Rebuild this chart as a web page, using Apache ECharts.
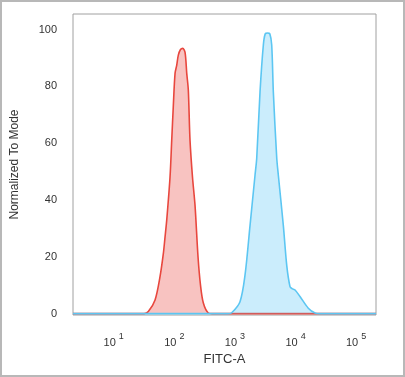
<!DOCTYPE html>
<html>
<head>
<meta charset="utf-8">
<script src="https://cdn.jsdelivr.net/npm/echarts@6/dist/echarts.min.js"></script>
<style>
html,body{margin:0;padding:0;background:#fff;}
#chart{position:absolute;left:0;top:0;width:405px;height:377px;}
#frame{position:absolute;left:0;top:0;width:405px;height:377px;box-sizing:border-box;border:2px solid #b8b8b8;pointer-events:none;}
</style>
</head>
<body>
<div id="chart"></div>
<div id="frame"></div>
<script>
// x values are log10(FITC-A)
var xTickDecades = [1, 2, 3, 4, 5];
var yTickValues = [0, 20, 40, 60, 80, 100];

var redX = [0.328, 1.500, 1.571, 1.682, 1.764, 1.818, 1.847, 1.875, 1.929, 1.957, 1.983, 2.012, 2.040, 2.066, 2.102, 2.139, 2.177, 2.205, 2.231, 2.259, 2.300, 2.342, 2.391, 2.432, 2.479, 2.561, 2.622, 5.328];
var redY = [0, 0, 0.7, 4.8, 13, 21, 27, 33, 48, 61, 72.9, 84.6, 87.5, 91, 93, 93.4, 92, 84.6, 78.7, 61, 48, 38, 20, 10, 3.7, 0.2, 0, 0];

var blueX = [0.328, 2.886, 2.947, 3.084, 3.167, 3.249, 3.332, 3.360, 3.414, 3.469, 3.500, 3.538, 3.576, 3.607, 3.634, 3.690, 3.716, 3.799, 3.855, 3.909, 3.942, 3.992, 4.074, 4.211, 4.322, 4.404, 5.328];
var blueY = [0, 0, 0.3, 4.2, 13.6, 31, 48.8, 54.8, 78, 94.6, 98.5, 98.8, 98.5, 94.6, 78, 54.8, 48.8, 31, 17, 9.5, 8.8, 8.3, 6, 1.9, 0.2, 0, 0];

function pairs(xs, ys) { return xs.map(function (x, i) { return [x, ys[i]]; }); }

var chart = echarts.init(document.getElementById('chart'), null, {renderer: 'canvas'});
chart.setOption({
  animation: false,
  backgroundColor: '#fff',
  grid: {left: 73, right: 29, top: 14, bottom: 62, show: true, borderColor: '#a0a0a0', borderWidth: 1, backgroundColor: 'transparent'},
  xAxis: {
    type: 'value', min: 0.328, max: 5.328,
    name: 'FITC-A', nameLocation: 'middle', nameGap: 37,
    nameTextStyle: {fontFamily: 'Liberation Sans', fontSize: 13, color: '#333'},
    axisLine: {show: false}, axisTick: {show: false}, splitLine: {show: false},
    axisLabel: {
      customValues: xTickDecades, margin: 17,
      formatter: function (v) { return '{b|10}{s|' + Math.round(v) + '}'; },
      rich: {
        b: {fontFamily: 'Liberation Sans', fontSize: 11, color: '#333', verticalAlign: 'bottom'},
        s: {fontFamily: 'Liberation Sans', fontSize: 9, color: '#333', padding: [0, 0, 7, 3], verticalAlign: 'bottom'}
      }
    }
  },
  yAxis: {
    type: 'value', min: -0.5, max: 105.5,
    name: 'Normalized To Mode', nameLocation: 'middle', nameGap: 52,
    nameTextStyle: {fontFamily: 'Liberation Sans', fontSize: 12, color: '#333'},
    axisLine: {show: false}, axisTick: {show: false}, splitLine: {show: false},
    axisLabel: {customValues: yTickValues, margin: 16, fontFamily: 'Liberation Sans', fontSize: 11, color: '#333'}
  },
  series: [
    {
      type: 'line', data: pairs(redX, redY), showSymbol: false, smooth: 0.3,
      lineStyle: {color: '#e8473e', width: 1.6},
      areaStyle: {color: 'rgba(234,85,78,0.5)'}, z: 2
    },
    {
      type: 'line', data: pairs(blueX, blueY), showSymbol: false, smooth: 0.3,
      lineStyle: {color: '#5cc6f2', width: 1.6},
      areaStyle: {color: 'rgba(100,200,245,0.48)'}, z: 3
    }
  ]
});
</script>
</body>
</html>
